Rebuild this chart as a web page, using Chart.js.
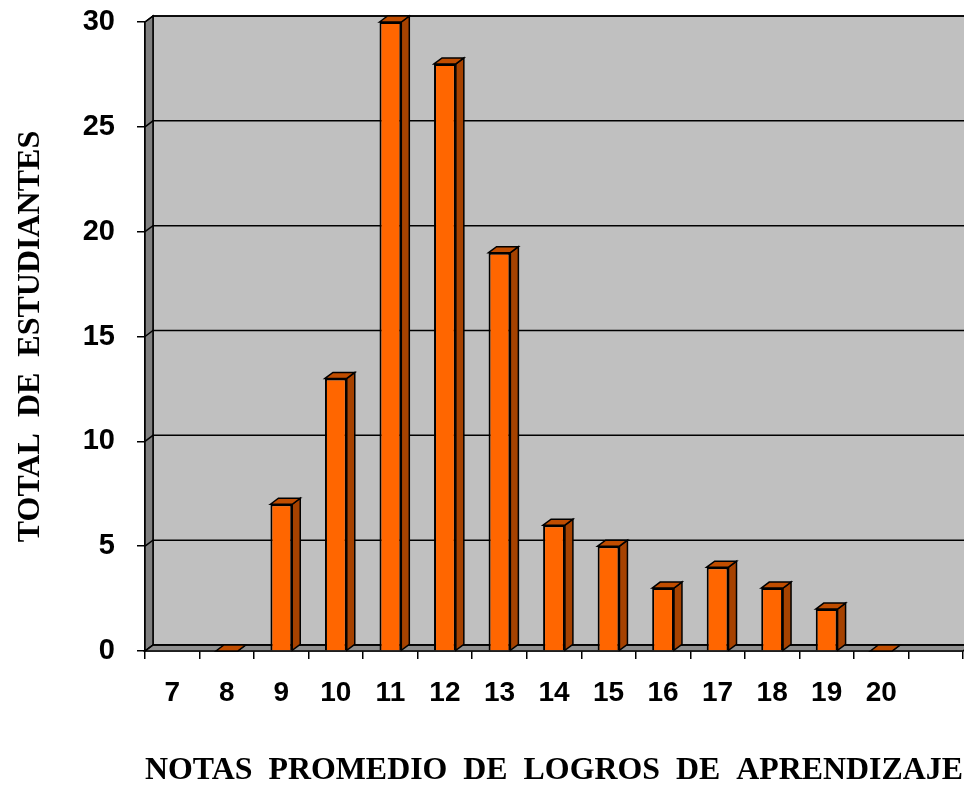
<!DOCTYPE html>
<html>
<head>
<meta charset="utf-8">
<script src="https://cdn.jsdelivr.net/npm/chart.js@4/dist/chart.umd.min.js"></script>
<style>
  body { margin: 0; background: #fff; }
  #wrap { width: 964px; height: 790px; }
</style>
</head>
<body>
<div id="wrap"><canvas id="notasChart"></canvas></div>
<script>
const notas = ['7', '8', '9', '10', '11', '12', '13', '14', '15', '16', '17', '18', '19', '20', ''];
const estudiantes = [null, 0, 7, 13, 30, 28, 19, 6, 5, 3, 4, 3, 2, 0, null];
const yTicks = [0, 5, 10, 15, 20, 25, 30];

// 3D depth offset of the Excel-style walls and bars
const DX = 8, DY = 6;

const wall3d = {
    id: 'wall3d',
    beforeDatasetsDraw(chart) {
        const { ctx, chartArea: a, scales: { y } } = chart;
        ctx.save();
        ctx.lineWidth = 1.5;
        ctx.strokeStyle = '#000';
        // back wall
        ctx.fillStyle = '#c0c0c0';
        ctx.fillRect(a.left + DX, a.top - DY, a.right - a.left, a.bottom - a.top);
        ctx.strokeRect(a.left + DX, a.top - DY, a.right - a.left, a.bottom - a.top);
        // side wall
        ctx.fillStyle = '#808080';
        ctx.beginPath();
        ctx.moveTo(a.left, a.top);
        ctx.lineTo(a.left + DX, a.top - DY);
        ctx.lineTo(a.left + DX, a.bottom - DY);
        ctx.lineTo(a.left, a.bottom);
        ctx.closePath();
        ctx.fill();
        ctx.stroke();
        // floor
        ctx.fillStyle = '#909090';
        ctx.beginPath();
        ctx.moveTo(a.left, a.bottom);
        ctx.lineTo(a.left + DX, a.bottom - DY);
        ctx.lineTo(a.right + DX, a.bottom - DY);
        ctx.lineTo(a.right, a.bottom);
        ctx.closePath();
        ctx.fill();
        ctx.stroke();
        // gridlines on back wall
        yTicks.forEach(v => {
            const py = y.getPixelForValue(v) - DY;
            ctx.beginPath();
            ctx.moveTo(a.left, py + DY);
            ctx.lineTo(a.left + DX, py);
            ctx.lineTo(a.right + DX, py);
            ctx.stroke();
        });
        ctx.restore();
    },
    afterDatasetsDraw(chart) {
        const { ctx } = chart;
        const meta = chart.getDatasetMeta(0);
        ctx.save();
        ctx.lineWidth = 1.5;
        ctx.strokeStyle = '#000';
        meta.data.forEach((bar, i) => {
            if (estudiantes[i] === null) return;
            const p = bar.getProps(['x', 'y', 'base', 'width'], true);
            const l = p.x - p.width / 2, r = p.x + p.width / 2;
            // side face
            ctx.fillStyle = '#a64200';
            ctx.beginPath();
            ctx.moveTo(r, p.y);
            ctx.lineTo(r + DX, p.y - DY);
            ctx.lineTo(r + DX, p.base - DY);
            ctx.lineTo(r, p.base);
            ctx.closePath();
            ctx.fill();
            ctx.stroke();
            // top face
            ctx.fillStyle = '#c04d00';
            ctx.beginPath();
            ctx.moveTo(l, p.y);
            ctx.lineTo(l + DX, p.y - DY);
            ctx.lineTo(r + DX, p.y - DY);
            ctx.lineTo(r, p.y);
            ctx.closePath();
            ctx.fill();
            ctx.stroke();
        });
        ctx.restore();
    }
};

const ctx = document.getElementById('notasChart').getContext('2d');
const notasChart = new Chart(ctx, {
    type: 'bar',
    data: {
        labels: notas,
        datasets: [{
            label: 'Estudiantes',
            data: estudiantes,
            backgroundColor: '#ff6600',
            borderColor: '#000',
            borderWidth: 2,
            barPercentage: 0.4,
            categoryPercentage: 1,
            clip: false
        }]
    },
    options: {
        responsive: true,
        maintainAspectRatio: false,
        animation: false,
        layout: { padding: { top: 22, right: 1, left: 0, bottom: 0 } },
        plugins: {
            legend: { display: false },
            tooltip: { enabled: false }
        },
        scales: {
            x: {
                afterFit(scale) {
                    scale.height = 139;
                    scale.paddingLeft = 0;
                    scale.paddingRight = 0;
                },
                grid: {
                    offset: true,
                    drawOnChartArea: false,
                    tickLength: 8,
                    color: '#000',
                    lineWidth: 1.5
                },
                border: { display: true, color: '#000', width: 1.5 },
                ticks: {
                    color: '#000',
                    padding: 17,
                    maxRotation: 0,
                    font: { family: 'Arial, "Liberation Sans"', size: 28, weight: 'bold' }
                },
                title: {
                    display: true,
                    text: 'NOTAS  PROMEDIO  DE  LOGROS  DE  APRENDIZAJE',
                    color: '#000',
                    padding: { top: 30, bottom: 0 },
                    font: { family: '"Times New Roman", "Liberation Serif"', size: 32, weight: 'bold' }
                }
            },
            y: {
                min: 0,
                max: 30,
                afterFit(scale) {
                    scale.width = 145;
                    scale.paddingTop = 0;
                    scale.paddingBottom = 0;
                },
                afterBuildTicks(scale) { scale.ticks = yTicks.map(v => ({ value: v })); },
                grid: {
                    drawOnChartArea: false,
                    tickLength: 8,
                    color: '#000',
                    lineWidth: 1.5
                },
                border: { display: true, color: '#000', width: 1.5 },
                ticks: {
                    color: '#000',
                    padding: 22,
                    font: { family: 'Arial, "Liberation Sans"', size: 29, weight: 'bold' }
                },
                title: {
                    display: true,
                    text: 'TOTAL  DE  ESTUDIANTES',
                    color: '#000',
                    padding: { top: 12, bottom: 0 },
                    font: { family: '"Times New Roman", "Liberation Serif"', size: 32, weight: 'bold' }
                }
            }
        }
    },
    plugins: [wall3d]
});
</script>
</body>
</html>
